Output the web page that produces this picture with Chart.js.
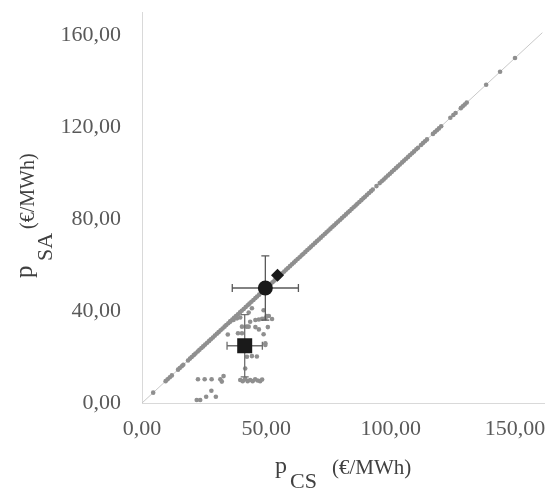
<!DOCTYPE html>
<html>
<head>
<meta charset="utf-8">
<script src="https://cdn.jsdelivr.net/npm/chart.js@4.4.1/dist/chart.umd.min.js"></script>
<style>
  body { margin: 0; background: #fff; }
  #wrap { width: 545px; height: 489px; }
</style>
</head>
<body>
<div id="wrap"><canvas id="chart"></canvas></div>
<script>
// prices where p_SA == p_CS (points on the diagonal)
const diagPrices = [4.5, 9.5, 10.3, 11.2, 12, 14.5, 15.2, 16, 16.6,
  18.5, 19.3, 20, 20.8, 21.5, 22.4, 23.1, 23.9, 24.6, 25.4, 26.2, 27, 27.7, 28.5, 29.3, 30.1,
  30.8, 31.6, 32.4, 33.2, 33.9, 34.7, 35.5, 36.3, 37, 37.8, 38.6, 39.4, 40.1, 40.9, 41.7,
  42.5, 43.2, 44, 44.8, 45.6, 46.3, 47.1, 47.9, 48.7, 49.4, 50.2, 51, 51.8, 52.5, 53.3,
  54.1, 54.9, 55.6, 56.4, 57.2, 58, 58.7, 59.5, 60.3, 61.1, 61.8, 62.6, 63.4, 64.2, 64.9,
  65.7, 66.5, 67.3, 68, 68.8, 69.6, 70.4, 71.1, 71.9, 72.7, 73.5, 74.2, 75, 75.8, 76.6,
  77.3, 78.1, 78.9, 79.7, 80.4, 81.2, 82, 82.8, 83.5, 84.3, 85.1, 85.9, 86.6, 87.4, 88.2,
  89, 89.7, 90.5, 91.3, 92.1, 92.8,
  94.3, 95.6, 96.4, 97.2, 98, 98.9, 99.7, 100.5, 101.3, 102.1, 102.9, 103.7, 104.6, 105.4,
  106.2, 107, 107.8, 108.6, 109.4, 110.3, 111,
  112.2, 113, 113.8, 114.6, 117, 117.8, 118.6, 119.4, 120.3,
  124, 125.2, 126.1, 128.2, 129, 129.8, 130.6, 138.4, 144, 150];

// points off the diagonal
const offX = [22, 23.4, 25.8, 29.7, 27.9, 22.5, 25.2, 28, 31.5, 32.1, 32.8,
  39.5, 40.5, 41.5, 42.5, 43.5, 44.5, 45.5, 46.5, 47.5, 48.3,
  41.5, 42.2, 44.2, 46.2, 49.6, 49.6,
  34.5, 38.6, 40.2, 48.9, 40.2, 42.1, 42.9, 45.6, 47, 50.6,
  35.5, 36.8, 38.2, 39.5, 43.5, 45.6, 47, 48.3, 49.6, 50.2, 51, 52.3,
  42.9, 44.2, 48.9];
const offY = [1.3, 1.3, 2.7, 2.7, 5.3, 10.3, 10.3, 10.3, 10.3, 9.3, 11.7,
  10, 9.5, 10.5, 9.5, 10, 9.5, 10.3, 9.8, 9.5, 10.2,
  15, 20.1, 20.4, 20.2, 25.2, 26,
  29.8, 30.3, 30.3, 29.9, 33.2, 33.2, 33.2, 33, 32, 33,
  35.4, 36.1, 36.8, 37.2, 35.3, 36.1, 36.3, 36.6, 36.8, 37.8, 37.8, 36.5,
  39.3, 41.2, 40.3];

// mean markers with error bars
const circlePt = { x: 49.6, y: 50, xErr: 13.3, yErr: 14 };
const diamondPt = { x: 54.5, y: 55.5 };
const squarePt = { x: 41.3, y: 24.9, xErr: 7.1, yErr: 13.5 };

const xTicks = [0, 50, 100, 150];
const yTicks = [0, 40, 80, 120, 160];
const diagLine = [0, 161];

const dots = diagPrices.map(p => ({ x: p, y: p }))
  .concat(offX.map((x, i) => ({ x: x, y: offY[i] })));

function fmt(v) {
  return v.toFixed(2).replace('.', ',');
}

// error bars, drawn after the grey dots and before the black markers
const errorBars = {
  id: 'errorBars',
  afterDatasetDraw(chart, args) {
    if (args.index !== 3) return;
    const xs = chart.scales.x, ys = chart.scales.y;
    const ctx = chart.ctx;
    const cap = 4;
    [[circlePt, '#595959'], [squarePt, '#6f6f6f']].forEach(([p, col]) => {
      const cx = xs.getPixelForValue(p.x), cy = ys.getPixelForValue(p.y);
      const x1 = xs.getPixelForValue(p.x - p.xErr), x2 = xs.getPixelForValue(p.x + p.xErr);
      const y1 = ys.getPixelForValue(p.y + p.yErr), y2 = ys.getPixelForValue(p.y - p.yErr);
      ctx.save();
      ctx.strokeStyle = col;
      ctx.lineWidth = 1.3;
      ctx.beginPath();
      ctx.moveTo(x1, cy); ctx.lineTo(x2, cy);
      ctx.moveTo(x1, cy - cap); ctx.lineTo(x1, cy + cap);
      ctx.moveTo(x2, cy - cap); ctx.lineTo(x2, cy + cap);
      ctx.moveTo(cx, y1); ctx.lineTo(cx, y2);
      ctx.moveTo(cx - cap, y1); ctx.lineTo(cx + cap, y1);
      ctx.moveTo(cx - cap, y2); ctx.lineTo(cx + cap, y2);
      ctx.stroke();
      ctx.restore();
    });
  }
};

// x tick labels and axis titles
const axisText = {
  id: 'axisText',
  afterDraw(chart) {
    const ctx = chart.ctx;
    const xs = chart.scales.x;
    ctx.save();
    // x axis line runs on to the right edge
    ctx.strokeStyle = '#d9d9d9';
    ctx.lineWidth = 1;
    ctx.beginPath();
    ctx.moveTo(xs.right, xs.top + 0.5);
    ctx.lineTo(chart.width, xs.top + 0.5);
    ctx.stroke();

    ctx.fillStyle = '#595959';
    ctx.font = '22px "Liberation Serif"';
    ctx.textAlign = 'center';
    ctx.textBaseline = 'middle';
    xTicks.forEach(v => ctx.fillText(fmt(v), xs.getPixelForValue(v), xs.top + 26));

    ctx.fillStyle = '#404040';
    ctx.textAlign = 'left';
    ctx.textBaseline = 'alphabetic';
    ctx.font = '24px "Liberation Serif"';
    ctx.fillText('p', 275, 473);
    ctx.font = '22px "Liberation Serif"';
    ctx.fillText('CS', 290, 488);
    ctx.font = '21px "Liberation Serif"';
    ctx.fillText('(€/MWh)', 332, 474);

    const parts = [['p', 25, 32, 278], ['SA', 22, 52, 261], ['(€/MWh)', 20, 34, 229]];
    parts.forEach(([t, size, x, y]) => {
      ctx.save();
      ctx.translate(x, y);
      ctx.rotate(-Math.PI / 2);
      ctx.font = size + 'px "Liberation Serif"';
      ctx.fillText(t, 0, 0);
      ctx.restore();
    });
    ctx.restore();
  }
};

new Chart(document.getElementById('chart'), {
  type: 'scatter',
  data: {
    datasets: [
      {
        data: [squarePt],
        pointStyle: 'rect', pointRadius: 10.6,
        backgroundColor: '#1a1a1a', borderColor: '#1a1a1a', borderWidth: 0
      },
      {
        data: [circlePt],
        pointStyle: 'circle', pointRadius: 7.5,
        backgroundColor: '#1a1a1a', borderColor: '#1a1a1a', borderWidth: 0
      },
      {
        data: [diamondPt],
        pointStyle: 'rectRot', pointRadius: 6.5,
        backgroundColor: '#1a1a1a', borderColor: '#1a1a1a', borderWidth: 0
      },
      {
        data: dots,
        pointRadius: 2.3,
        backgroundColor: '#8f8f8f', borderWidth: 0
      },
      {
        type: 'line',
        data: diagLine.map(v => ({ x: v, y: v })),
        borderColor: '#c8c8c8', borderWidth: 1, pointRadius: 0,
        clip: false
      }
    ]
  },
  plugins: [errorBars, axisText],
  options: {
    responsive: true,
    maintainAspectRatio: false,
    animation: false,
    layout: { padding: { top: 12, right: 1, left: 0, bottom: 0 } },
    plugins: { legend: { display: false }, tooltip: { enabled: false } },
    scales: {
      x: {
        type: 'linear', min: 0, max: 157.8,
        afterBuildTicks: s => { s.ticks = xTicks.map(v => ({ value: v })); },
        afterFit: s => { s.height = 86; },
        grid: { display: false },
        border: { display: true, color: '#d9d9d9', width: 1 },
        ticks: { display: false }
      },
      y: {
        type: 'linear', min: 0, max: 170,
        afterBuildTicks: s => { s.ticks = yTicks.map(v => ({ value: v })); },
        afterFit: s => { s.width = 142; s.paddingTop = 0; s.paddingBottom = 0; },
        grid: { display: false },
        border: { display: true, color: '#d9d9d9', width: 1 },
        ticks: {
          padding: 13, color: '#595959',
          font: { family: 'Liberation Serif', size: 22 },
          callback: v => fmt(v)
        }
      }
    }
  }
});
</script>
</body>
</html>
